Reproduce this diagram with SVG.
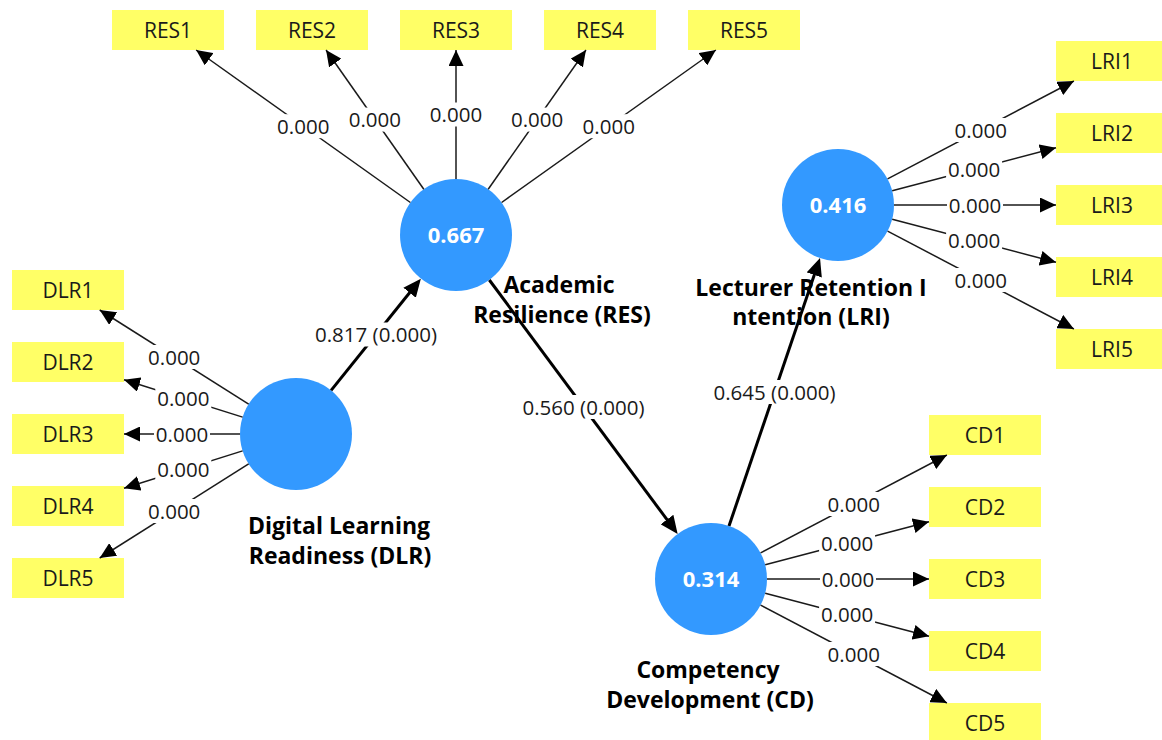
<svg xmlns="http://www.w3.org/2000/svg" width="1162" height="740" viewBox="0 0 1162 740">
<style>
.box{fill:#ffff66}
.lv{fill:#3399ff}
.bt{font-family:"Open Sans","Noto Sans",sans-serif;font-size:21px;fill:#1a1a1a;text-anchor:middle}
.val{font-family:"Open Sans","Noto Sans",sans-serif;font-size:22px;font-weight:bold;fill:#ffffff;text-anchor:middle}
.nm{font-family:"Open Sans","Noto Sans",sans-serif;font-size:23px;font-weight:bold;fill:#000;text-anchor:middle}
.ind{stroke:#1a1a1a;stroke-width:1.5;fill:none;marker-end:url(#ah)}
.str{stroke:#000;stroke-width:3;fill:none;marker-end:url(#ah2)}
.bg{fill:#ffffff}
.lb{font-family:"Open Sans","Noto Sans",sans-serif;font-size:20.5px;fill:#1a1a1a;text-anchor:middle}
</style>
<defs>
<marker id="ah" markerUnits="userSpaceOnUse" markerWidth="16" markerHeight="15" refX="16" refY="7.5" orient="auto"><path d="M0,0 L16,7.5 L0,15 z" fill="#000"/></marker>
<marker id="ah2" markerUnits="userSpaceOnUse" markerWidth="18" markerHeight="16" refX="8" refY="8" orient="auto"><path d="M0,0 L18,8 L0,16 z" fill="#000"/></marker>
</defs>
<rect width="1162" height="740" fill="#ffffff"/>
<g id="RES1"><rect class="box" x="112" y="10" width="112" height="40"/><text class="bt" x="168" y="37.5">RES1</text></g>
<g id="RES2"><rect class="box" x="256" y="10" width="112" height="40"/><text class="bt" x="312" y="37.5">RES2</text></g>
<g id="RES3"><rect class="box" x="400" y="10" width="112" height="40"/><text class="bt" x="456" y="37.5">RES3</text></g>
<g id="RES4"><rect class="box" x="544" y="10" width="112" height="40"/><text class="bt" x="600" y="37.5">RES4</text></g>
<g id="RES5"><rect class="box" x="688" y="10" width="112" height="40"/><text class="bt" x="744" y="37.5">RES5</text></g>
<g id="DLR1"><rect class="box" x="12" y="270" width="112" height="40"/><text class="bt" x="68" y="297.5">DLR1</text></g>
<g id="DLR2"><rect class="box" x="12" y="342" width="112" height="40"/><text class="bt" x="68" y="369.5">DLR2</text></g>
<g id="DLR3"><rect class="box" x="12" y="414" width="112" height="40"/><text class="bt" x="68" y="441.5">DLR3</text></g>
<g id="DLR4"><rect class="box" x="12" y="486" width="112" height="40"/><text class="bt" x="68" y="513.5">DLR4</text></g>
<g id="DLR5"><rect class="box" x="12" y="558" width="112" height="40"/><text class="bt" x="68" y="585.5">DLR5</text></g>
<g id="LRI1"><rect class="box" x="1056" y="41" width="112" height="40"/><text class="bt" x="1112" y="68.5">LRI1</text></g>
<g id="LRI2"><rect class="box" x="1056" y="113" width="112" height="40"/><text class="bt" x="1112" y="140.5">LRI2</text></g>
<g id="LRI3"><rect class="box" x="1056" y="185" width="112" height="40"/><text class="bt" x="1112" y="212.5">LRI3</text></g>
<g id="LRI4"><rect class="box" x="1056" y="257" width="112" height="40"/><text class="bt" x="1112" y="284.5">LRI4</text></g>
<g id="LRI5"><rect class="box" x="1056" y="329" width="112" height="40"/><text class="bt" x="1112" y="356.5">LRI5</text></g>
<g id="CD1"><rect class="box" x="929" y="415" width="112" height="40"/><text class="bt" x="985" y="442.5">CD1</text></g>
<g id="CD2"><rect class="box" x="929" y="487" width="112" height="40"/><text class="bt" x="985" y="514.5">CD2</text></g>
<g id="CD3"><rect class="box" x="929" y="559" width="112" height="40"/><text class="bt" x="985" y="586.5">CD3</text></g>
<g id="CD4"><rect class="box" x="929" y="631" width="112" height="40"/><text class="bt" x="985" y="658.5">CD4</text></g>
<g id="CD5"><rect class="box" x="929" y="703" width="112" height="40"/><text class="bt" x="985" y="730.5">CD5</text></g>
<g id="DLR"><circle class="lv" cx="296" cy="434" r="56"/><text class="nm" x="339" y="534">Digital Learning</text><text class="nm" x="340" y="564">Readiness (DLR)</text></g>
<g id="RES"><circle class="lv" cx="456" cy="235" r="56"/><text class="val" x="456" y="243">0.667</text><text class="nm" x="559" y="293">Academic</text><text class="nm" x="562" y="323">Resilience (RES)</text></g>
<g id="LRI"><circle class="lv" cx="838" cy="205" r="56"/><text class="val" x="838" y="213">0.416</text><text class="nm" x="811" y="296">Lecturer Retention I</text><text class="nm" x="811" y="325">ntention (LRI)</text></g>
<g id="CD"><circle class="lv" cx="711" cy="579" r="56"/><text class="val" x="711" y="587">0.314</text><text class="nm" x="708" y="678">Competency</text><text class="nm" x="710" y="708">Development (CD)</text></g>
<g id="connectors">
<line class="ind" x1="248.65" y1="404.1" x2="99.7" y2="310"/>
<line class="ind" x1="242.6" y1="417.1" x2="124" y2="379.7"/>
<line class="ind" x1="240" y1="434" x2="124" y2="434"/>
<line class="ind" x1="242.6" y1="450.9" x2="124" y2="488.3"/>
<line class="ind" x1="248.65" y1="463.9" x2="99.7" y2="558"/>
<line class="ind" x1="410.4" y1="202.5" x2="196.1" y2="50"/>
<line class="ind" x1="423.8" y1="189.2" x2="326.05" y2="50"/>
<line class="ind" x1="456" y1="179" x2="456" y2="50"/>
<line class="ind" x1="488.2" y1="189.2" x2="585.95" y2="50"/>
<line class="ind" x1="501.6" y1="202.5" x2="715.9" y2="50"/>
<line class="ind" x1="887.6" y1="178.9" x2="1073.9" y2="81"/>
<line class="ind" x1="892.2" y1="190.8" x2="1056" y2="147.7"/>
<line class="ind" x1="894" y1="205" x2="1056" y2="205"/>
<line class="ind" x1="892.2" y1="219.2" x2="1056" y2="262.3"/>
<line class="ind" x1="887.6" y1="231.1" x2="1073.9" y2="329"/>
<line class="ind" x1="760.6" y1="552.95" x2="946.9" y2="455"/>
<line class="ind" x1="765.2" y1="564.8" x2="929" y2="521.7"/>
<line class="ind" x1="767" y1="579" x2="929" y2="579"/>
<line class="ind" x1="765.2" y1="593.2" x2="929" y2="636.3"/>
<line class="ind" x1="760.6" y1="605.05" x2="946.9" y2="703"/>
<line class="str" x1="331.1" y1="390.35" x2="414.6" y2="286.45"/>
<line class="str" x1="489.35" y1="280" x2="671.7" y2="525.97"/>
<line class="str" x1="729" y1="526" x2="816.8" y2="267.47"/>
<g id="labels">
<rect class="bg" x="146.2" y="345" width="56" height="24"/><text class="lb" x="174.2" y="364.5">0.000</text>
<rect class="bg" x="155.3" y="386.4" width="56" height="24"/><text class="lb" x="183.3" y="405.9">0.000</text>
<rect class="bg" x="154" y="422" width="56" height="24"/><text class="lb" x="182" y="441.5">0.000</text>
<rect class="bg" x="155.3" y="457.6" width="56" height="24"/><text class="lb" x="183.3" y="477.1">0.000</text>
<rect class="bg" x="146.2" y="499" width="56" height="24"/><text class="lb" x="174.2" y="518.5">0.000</text>
<rect class="bg" x="275.25" y="114.2" width="56" height="24"/><text class="lb" x="303.25" y="133.7">0.000</text>
<rect class="bg" x="346.9" y="107.6" width="56" height="24"/><text class="lb" x="374.9" y="127.1">0.000</text>
<rect class="bg" x="428" y="102.5" width="56" height="24"/><text class="lb" x="456" y="122">0.000</text>
<rect class="bg" x="509.1" y="107.6" width="56" height="24"/><text class="lb" x="537.1" y="127.1">0.000</text>
<rect class="bg" x="580.75" y="114.2" width="56" height="24"/><text class="lb" x="608.75" y="133.7">0.000</text>
<rect class="bg" x="952.75" y="118" width="56" height="24"/><text class="lb" x="980.75" y="137.5">0.000</text>
<rect class="bg" x="946.1" y="157.2" width="56" height="24"/><text class="lb" x="974.1" y="176.7">0.000</text>
<rect class="bg" x="947" y="193" width="56" height="24"/><text class="lb" x="975" y="212.5">0.000</text>
<rect class="bg" x="946.1" y="228.7" width="56" height="24"/><text class="lb" x="974.1" y="248.2">0.000</text>
<rect class="bg" x="952.75" y="268" width="56" height="24"/><text class="lb" x="980.75" y="287.5">0.000</text>
<rect class="bg" x="825.75" y="492" width="56" height="24"/><text class="lb" x="853.75" y="511.5">0.000</text>
<rect class="bg" x="819.1" y="531.2" width="56" height="24"/><text class="lb" x="847.1" y="550.7">0.000</text>
<rect class="bg" x="820" y="567" width="56" height="24"/><text class="lb" x="848" y="586.5">0.000</text>
<rect class="bg" x="819.1" y="602.7" width="56" height="24"/><text class="lb" x="847.1" y="622.2">0.000</text>
<rect class="bg" x="825.75" y="642" width="56" height="24"/><text class="lb" x="853.75" y="661.5">0.000</text>
<rect class="bg" x="309" y="322.5" width="134" height="24"/><text class="lb" x="376" y="342">0.817 (0.000)</text>
<rect class="bg" x="516.5" y="395" width="134" height="24"/><text class="lb" x="583.5" y="414.5">0.560 (0.000)</text>
<rect class="bg" x="707.5" y="380" width="134" height="24"/><text class="lb" x="774.5" y="399.5">0.645 (0.000)</text>
</g>
</g>
</svg>
